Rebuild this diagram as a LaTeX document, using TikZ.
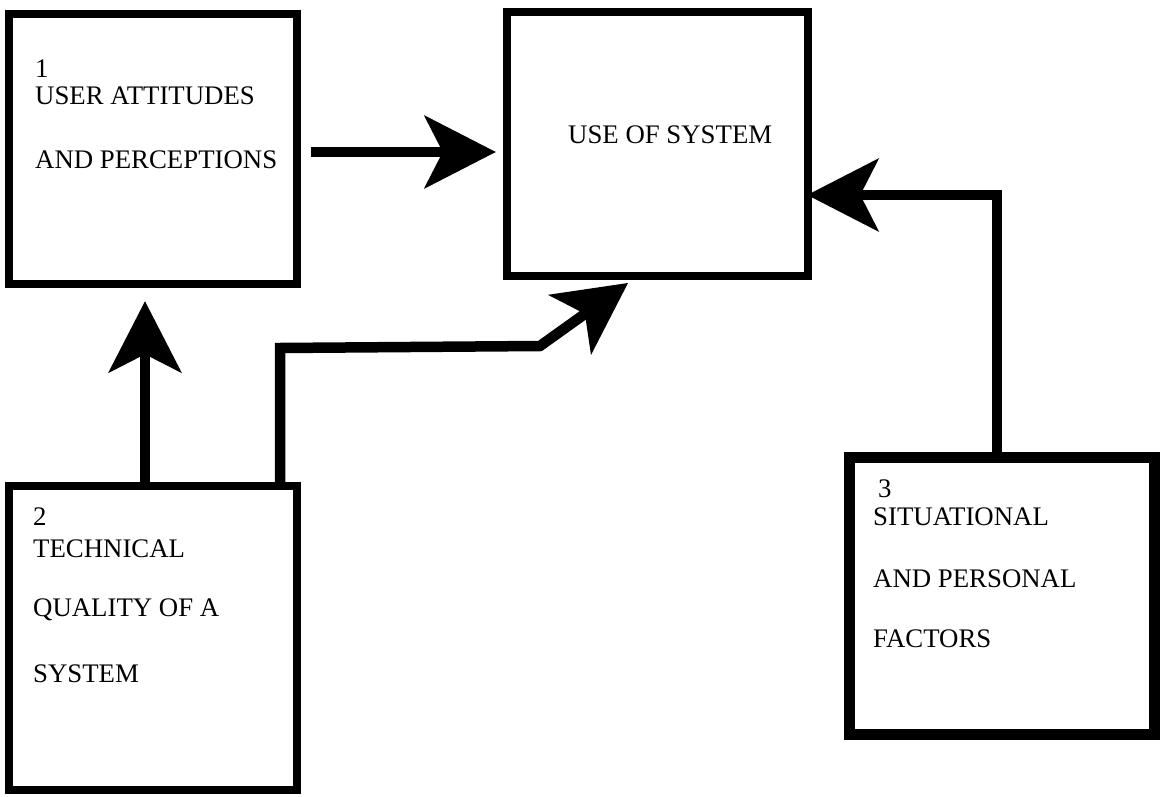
\documentclass[tikz,border=0pt]{standalone}
\usepackage{fontspec}
\setmainfont{Liberation Serif}
\usetikzlibrary{arrows.meta}
\begin{document}
\begin{tikzpicture}[x=1pt,y=-1pt,
  box/.style={draw=black, line width=8.5pt, inner sep=0pt, rectangle},
  lbl/.style={anchor=base west, inner sep=0pt, font=\fontsize{26.8}{30}\selectfont},
  arr/.style={line width=10.5pt, line join=miter,
    -{Stealth[length=72pt, width=74pt, inset=19pt, line width=0pt]}}]
\useasboundingbox (0,0) rectangle (1162,797);
\fill[white] (0,0) rectangle (1162,797);
% boxes
\node[box, minimum width=288pt, minimum height=270pt] (b1) at (153,149) {};
\node[box, minimum width=301pt, minimum height=264pt] (use) at (657.5,144) {};
\node[box, minimum width=288pt, minimum height=304pt] (b2) at (153,638) {};
\node[box, line width=11pt, minimum width=305pt, minimum height=277pt] (b3) at (1001.5,595.5) {};
% texts
\node[lbl] (t1a) at (35,78) {1};
\node[lbl] (t1b) at (35,105) {USER ATTITUDES};
\node[lbl] (t1c) at (35,168) {AND PERCEPTIONS};
\node[lbl] (tu) at (568,143) {USE OF SYSTEM};
\node[lbl] (t2a) at (33,525) {2};
\node[lbl] (t2b) at (33,557) {TECHNICAL};
\node[lbl] (t2c) at (33,616) {QUALITY OF A};
\node[lbl] (t2d) at (33,682) {SYSTEM};
\node[lbl] (t3a) at (878,497) {3};
\node[lbl] (t3b) at (873,525) {SITUATIONAL};
\node[lbl] (t3c) at (873,587) {AND PERSONAL};
\node[lbl] (t3d) at (873,647) {FACTORS};
% connector coordinates
\coordinate (k1) at (280,348);
\coordinate (k2) at (540,346);
\coordinate (tip3) at (628,283);
\coordinate (k4) at (997,195);
% connectors
\draw[arr, shorten <=10pt, shorten >=7pt] ([yshift=-3pt]b1.east) -- ([yshift=-3pt]b1.east -| use.west);
\draw[arr, shorten >=13pt] ([xshift=-8pt]b2.north) -- ([xshift=-8pt]b1.south);
\draw[arr] (b2.north -| k1) -- (k1) -- (k2) -- (tip3);
\draw[arr, shorten >=-5pt] (b3.north -| k4) -- (k4) -- (k4 -| use.east);
\end{tikzpicture}
\end{document}
